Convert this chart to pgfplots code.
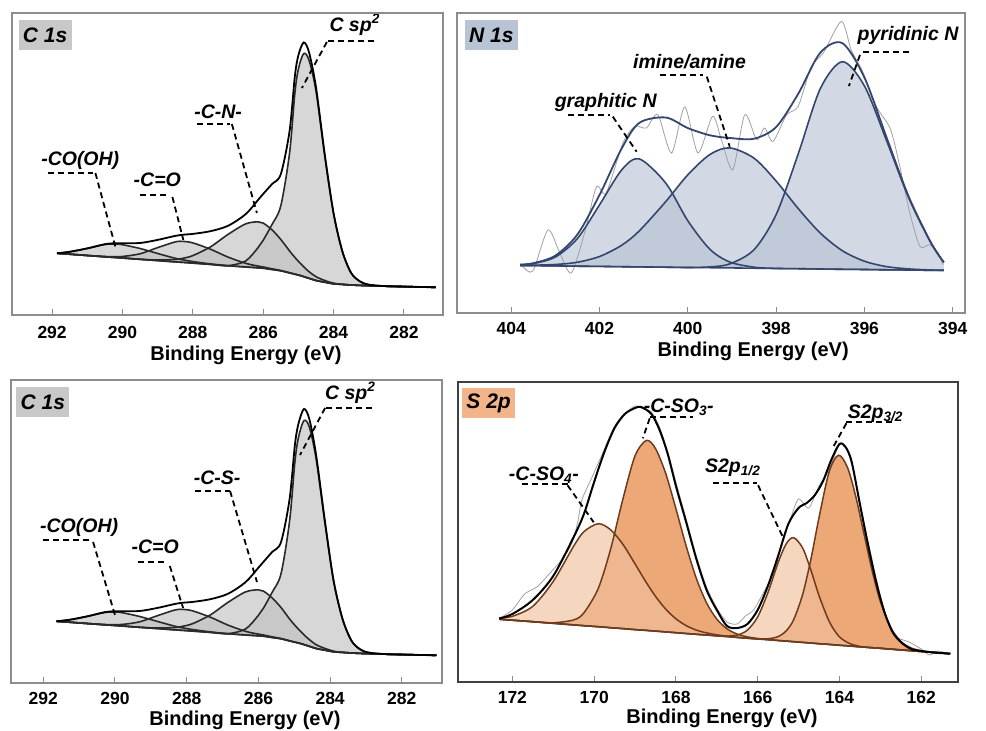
\documentclass[border=0pt]{standalone}
\usepackage{fontspec}
\setmainfont{Liberation Sans}
\usepackage{pgfplots}
\pgfplotsset{compat=1.18}
\usepackage{pgfplotstable}

\definecolor{fgray}{HTML}{8C8C8C}
\definecolor{dframe}{HTML}{404040}
\definecolor{cgray}{HTML}{BDBDBD}
\definecolor{cline}{HTML}{2A2A2A}
\definecolor{nfill}{HTML}{B4C0D2}
\definecolor{nline}{HTML}{34466E}
\definecolor{rawc}{HTML}{A0A0A0}
\definecolor{sline}{HTML}{6E3B1C}
\definecolor{so3}{HTML}{EDA878}
\definecolor{so4}{HTML}{F0C09C}
\definecolor{boxc}{HTML}{C8C8C8}
\definecolor{boxn}{HTML}{B8C3D3}
\definecolor{boxs}{HTML}{F2B48A}

% C 1s (top)
\pgfplotstableread{
E B sp2 CN CO COOH env
291.86 61.7 61.7 61.7 61.7 61.7 61.7
291.5 60.8 60.8 60.8 60.8 63.2 63.2
291.0 59.5 59.5 59.5 59.5 66.6 66.6
290.5 58.2 58.2 58.2 58.5 70.5 70.8
290.2 57.5 57.5 57.5 58.3 71.0 71.8
290.0 57.0 57.0 57.0 58.5 70.3 71.8
289.5 55.7 55.7 55.7 61.2 66.5 72.0
289.0 54.4 54.4 55.0 67.4 61.5 75.1
288.5 53.1 53.1 55.5 73.1 56.7 79.1
288.27 52.6 52.6 56.8 73.6 55.1 80.3
288.0 51.9 51.9 59.4 72.1 53.4 81.1
287.5 50.6 50.6 68.1 65.8 51.1 83.8
287.0 49.3 49.3 80.6 57.9 49.3 89.2
286.5 48.0 54.0 91.1 51.7 48.0 100.8
286.15 47.2 67.2 93.2 48.9 47.2 114.9
286.0 46.8 74.8 91.9 48.0 46.8 121.1
285.75 45.5 90.5 85.2 46.2 45.5 130.9
285.5 44.2 109.2 75.5 44.5 44.2 140.8
285.25 42.1 162.1 64.0 42.2 42.1 184.1
285.1 40.8 222.0 57.6 40.8 40.8 238.8
285.0 40.0 246.0 53.7 40.0 40.0 259.7
284.85 38.4 261.4 48.2 38.4 38.4 272.5
284.7 36.7 255.0 43.4 36.7 36.7 263.0
284.5 34.5 224.0 38.3 34.5 34.5 227.8
284.25 32.8 158.8 34.5 32.8 32.8 160.5
284.0 31.2 101.2 31.8 31.2 31.2 101.8
283.75 30.6 63.6 30.6 30.6 30.6 63.6
283.5 30.0 42.0 30.0 30.0 30.0 42.0
283.25 29.6 33.6 29.6 29.6 29.6 33.6
283.0 29.3 30.3 29.3 29.3 29.3 30.3
282.5 28.8 28.8 28.8 28.8 28.8 28.8
282.0 28.4 28.4 28.4 28.4 28.4 28.4
281.5 28.0 28.0 28.0 28.0 28.0 28.0
281.1 27.7 27.7 27.7 27.7 27.7 27.7
}\Pa

% C 1s (bottom)
\pgfplotstableread{
E B sp2 CS CO COOH env
291.63 61.7 61.7 61.7 61.7 61.7 61.7
291.27 60.8 60.8 60.8 60.8 63.2 63.2
290.78 59.5 59.5 59.5 59.5 66.6 66.6
290.29 58.2 58.2 58.2 58.5 70.5 70.8
289.99 57.5 57.5 57.5 58.3 71.0 71.8
289.80 57.0 57.0 57.0 58.5 70.3 71.8
289.31 55.7 55.7 55.7 61.2 66.5 72.0
288.81 54.4 54.4 55.0 67.4 61.5 75.1
288.32 53.1 53.1 55.5 73.1 56.7 79.1
288.10 52.6 52.6 56.8 73.6 55.1 80.3
287.83 51.9 51.9 59.4 72.1 53.4 81.1
287.34 50.6 50.6 68.1 65.8 51.1 83.8
286.85 49.3 49.3 80.6 57.9 49.3 89.2
286.36 48.0 54.0 91.1 51.7 48.0 100.8
286.01 47.2 67.2 93.2 48.9 47.2 114.9
285.86 46.8 74.8 91.9 48.0 46.8 121.1
285.62 45.5 90.5 85.2 46.2 45.5 130.9
285.37 44.2 109.2 75.5 44.5 44.2 140.8
285.13 42.1 162.1 64.0 42.2 42.1 184.1
284.98 40.8 222.0 57.6 40.8 40.8 238.8
284.88 40.0 246.0 53.7 40.0 40.0 259.7
284.73 38.4 262.4 48.2 38.4 38.4 274.0
284.58 36.7 256.0 43.4 36.7 36.7 264.0
284.39 34.5 224.0 38.3 34.5 34.5 227.8
284.14 32.8 158.8 34.5 32.8 32.8 160.5
283.90 31.2 101.2 31.8 31.2 31.2 101.8
283.65 30.6 63.6 30.6 30.6 30.6 63.6
283.40 30.0 42.0 30.0 30.0 30.0 42.0
283.16 29.6 33.6 29.6 29.6 29.6 33.6
282.91 29.3 30.3 29.3 29.3 29.3 30.3
282.42 28.8 28.8 28.8 28.8 28.8 28.8
281.93 28.4 28.4 28.4 28.4 28.4 28.4
281.44 28.0 28.0 28.0 28.0 28.0 28.0
281.04 27.7 27.7 27.7 27.7 27.7 27.7
}\Pc

% N 1s
\pgfplotstableread{
E B g i p env
403.8 47.5 48.2 47.7 47.5 48.4
403.5 47.4 49.4 47.8 47.4 49.8
403.0 47.1 56.0 48.5 47.1 57.4
402.5 46.8 74.6 50.8 46.8 78.6
402.0 46.6 108.2 56.5 46.6 118.1
401.5 46.3 143.0 67.7 46.3 164.4
401.1 46.1 154.1 82.1 46.1 190.1
400.5 45.8 129.9 111.4 45.8 195.5
400.0 45.5 92.2 138.2 45.5 184.9
399.5 45.3 63.7 158.5 46.1 177.7
399.05 45.1 51.0 165.1 49.1 175.0
398.5 44.8 45.8 154.8 63.3 174.3
398.0 44.5 44.6 132.0 98.3 185.9
397.5 44.3 44.3 104.5 158.9 219.1
397.0 44.0 44.0 80.0 224.2 260.2
396.5 43.7 43.7 62.3 251.3 269.9
396.0 43.5 43.5 51.8 227.2 235.5
395.5 43.2 43.2 46.4 172.7 175.9
395.0 43.0 43.0 44.1 115.7 116.8
394.5 42.7 42.7 43.0 70.7 71.0
394.2 42.6 42.6 42.7 50.6 50.7
}\Pb

\pgfplotstableread{
E h
403.74 46.6
403.51 42
403.17 83
402.90 60
402.64 40
402.34 80
402.07 126
401.85 120
401.47 170
401.20 186.6
400.94 185
400.68 198.3
400.37 160
400.07 206
399.77 160
399.44 196.6
399.24 173.3
398.98 143.3
398.71 198.3
398.44 173.3
398.26 185
398.07 171.6
397.76 198.3
397.50 206.6
397.20 246.6
396.93 260
396.52 291.6
396.30 263.3
396.04 241.6
395.73 206.6
395.42 185
395.23 153.3
394.97 100
394.74 66.6
394.52 68.3
394.33 60
394.22 48.3
}\Pbraw

% S 2p
\pgfplotstableread{
E B so4 so3 s12 s32
172.32 62.8 64.1 62.8 62.8 62.8
172.0 61.8 65.7 61.8 61.8 61.8
171.5 60.3 75.7 60.3 60.3 60.3
171.0 58.7 100.6 59.2 58.7 58.7
170.5 57.1 135.9 62.1 57.1 57.1
170.25 56.3 150.3 69.2 56.3 56.3
169.9 55.3 158.3 93.5 55.3 55.3
169.6 54.3 152.3 132.4 54.3 54.3
169.3 53.4 137.9 182.4 53.4 53.4
169.0 52.4 118.1 226.1 52.4 52.4
168.72 51.6 99.2 241.6 51.6 51.6
168.5 50.9 85.7 233.5 50.9 50.9
168.25 50.1 72.9 208.6 50.1 50.1
168.0 49.3 63.2 173.3 49.3 49.3
167.75 48.5 56.4 136.1 48.5 48.5
167.5 47.7 51.9 103.6 47.7 47.7
167.25 47.0 49.1 79.1 47.0 47.0
167.0 46.2 47.2 62.9 46.2 46.2
166.75 45.4 45.8 53.2 45.9 45.4
166.5 44.6 44.6 47.9 46.9 44.6
166.25 43.8 43.8 45.1 51.9 43.8
166.0 43.0 43.0 43.5 65.1 43.2
165.75 42.3 42.3 42.5 89.3 43.2
165.5 41.5 41.5 41.5 119.4 45.4
165.3 40.9 40.9 40.9 138.3 51.2
165.12 40.3 40.3 40.3 144.3 62.3
164.9 39.6 39.6 39.6 134.0 87.5
164.7 39.0 39.0 39.0 112.1 122.4
164.5 38.3 38.3 38.3 86.5 164.3
164.25 37.6 37.6 37.6 60.5 210.5
164.02 36.8 36.8 36.8 46.0 226.8
163.8 36.2 36.2 36.2 39.4 214.2
163.6 35.5 35.5 35.5 36.5 185.4
163.4 34.9 34.9 34.9 34.9 148.3
163.2 34.3 34.3 34.3 34.3 111.3
163.0 33.7 33.7 33.7 33.7 80.6
162.75 32.9 32.9 32.9 32.9 54.8
162.5 32.1 32.1 32.1 32.1 40.6
162.25 31.3 31.3 31.3 31.3 34.1
162.0 30.5 30.5 30.5 30.5 31.3
161.7 29.6 29.6 29.6 29.6 29.7
161.29 28.3 28.3 28.3 28.3 28.3
}\Pd

\pgfplotstableread{
E h
172.32 63.5
172.0 68
171.5 82
171.0 106
170.5 145
170.25 168
170.0 200
169.75 230
169.5 254
169.25 268
169.0 274
168.85 275
168.6 268
168.4 252
168.2 228
168.0 196
167.75 160
167.5 123
167.25 92
167.0 72
166.75 56
166.5 54
166.25 58
166.0 72
165.75 96
165.5 126
165.25 158
165.0 174
164.8 179
164.6 187
164.4 201
164.2 222
164.0 238
163.85 235
163.7 220
163.5 178
163.3 137
163.1 100
162.9 70
162.7 50
162.5 40
162.25 33
162.0 31
161.7 29.5
161.29 28.3
}\Pdenv

\pgfplotstableread{
E h
172.3 64
172.0 72
171.7 88
171.4 95
171.1 108
170.8 122
170.55 138
170.4 160
170.3 182
170.05 205
169.8 228
169.5 256
169.25 268
169.0 276
168.8 273
168.6 270
168.4 255
168.2 230
168.0 200
167.75 163
167.5 126
167.25 95
167.0 74
166.75 60
166.5 58
166.3 66
166.1 72
165.85 90
165.6 110
165.4 140
165.2 163
165.0 183
164.75 174
164.5 196
164.26 212
164.0 237
163.8 232
163.6 200
163.4 160
163.2 122
163.0 86
162.8 60
162.6 45
162.3 40
162.0 33
161.8 27
161.6 31
161.3 28
}\Pdraw

\pgfplotsset{
  xps/.style={
    scale only axis, clip=false, x dir=reverse, anchor=south west,
    axis on top,
    ymin=0, ytick=\empty, xtick pos=bottom, tick align=inside,
    major tick length=6pt,
    tick style={draw=fgray, line width=1pt},
    axis line style={draw=fgray, line width=1.3pt},
    /pgf/number format/assume math mode=true,
    xticklabel style={font=\fontsize{17.5}{17.5}\selectfont\bfseries, anchor=center, text=black},
    xlabel={Binding Energy (eV)},
    xlabel style={font=\fontsize{20}{20}\selectfont\bfseries, anchor=center},
  },
  cfill/.style={fill=cgray, fill opacity=0.6, draw=none, smooth},
  cl/.style={draw=cline, line width=1.6pt, smooth},
  nfillst/.style={fill=nfill, fill opacity=0.6, draw=none, smooth},
  nl/.style={draw=nline, line width=1.6pt, smooth},
  sl/.style={draw=sline, line width=1.5pt, smooth},
  wbase/.style={fill=white, draw=white, line width=1.5pt, smooth},
}

\begin{document}
\begin{tikzpicture}[
  annot/.style={font=\fontsize{19.5}{19.5}\selectfont\bfseries\itshape, inner sep=0pt},
  lead/.style={black, line width=1.8pt, dash pattern=on 6pt off 4pt},
  plab/.style={font=\fontsize{21}{21}\selectfont\bfseries\itshape, inner sep=0pt, minimum width=53pt, minimum height=30pt}]
\useasboundingbox (0,0) rectangle (986pt,731pt);

%================ Panel 1: C 1s (top) ================
\begin{axis}[xps, at={(12pt,416pt)}, width=431pt, height=302pt,
  xmin=280.89, xmax=293.14, ymax=302, xtick={282,284,...,292},
  xticklabel style={yshift=-17pt},
  xlabel style={at={(axis description cs:0.543,0)}, yshift=-40pt}]
\addplot[cfill] table[x=E,y=sp2]{\Pa} \closedcycle;
\addplot[cfill] table[x=E,y=CN]{\Pa} \closedcycle;
\addplot[cfill] table[x=E,y=CO]{\Pa} \closedcycle;
\addplot[cfill] table[x=E,y=COOH]{\Pa} \closedcycle;
\addplot[wbase] table[x=E,y=B]{\Pa} \closedcycle;
\addplot[cl] table[x=E,y=B]{\Pa};
\addplot[cl] table[x=E,y=sp2]{\Pa};
\addplot[cl] table[x=E,y=CN]{\Pa};
\addplot[cl] table[x=E,y=CO]{\Pa};
\addplot[cl] table[x=E,y=COOH]{\Pa};
\addplot[draw=black, line width=1.8pt, smooth] table[x=E,y=env]{\Pa};
\node[plab, fill=boxc] at (axis cs:292.2,280) {C 1s};
\node[annot] at (axis cs:283.40,290) {C sp\textsuperscript{2}};
\draw[lead] (axis cs:284.16,274.3) -- (axis cs:282.83,274.3);
\draw[lead] (axis cs:284.19,273) -- (axis cs:284.90,227);
\node[annot] at (axis cs:287.28,203) {-C-N-};
\draw[lead] (axis cs:287.88,191) -- (axis cs:286.94,191);
\draw[lead] (axis cs:286.89,191) -- (axis cs:286.18,102);
\node[annot] at (axis cs:291.20,155) {-CO(OH)};
\draw[lead] (axis cs:292.13,142) -- (axis cs:290.83,142);
\draw[lead] (axis cs:290.77,142) -- (axis cs:290.20,68);
\node[annot] at (axis cs:289.01,135) {-C=O};
\draw[lead] (axis cs:289.49,120) -- (axis cs:288.73,120);
\draw[lead] (axis cs:288.58,118) -- (axis cs:288.27,75);
\end{axis}

%================ Panel 2: N 1s ================
\begin{axis}[xps, at={(457pt,418pt)}, width=508pt, height=300pt,
  xmin=393.72, xmax=405.23, ymax=300, xtick={394,396,...,404},
  xticklabel style={yshift=-15pt},
  xlabel style={at={(axis description cs:0.583,0)}, yshift=-38pt}]
\addplot[nfillst] table[x=E,y=g]{\Pb} \closedcycle;
\addplot[nfillst] table[x=E,y=i]{\Pb} \closedcycle;
\addplot[nfillst] table[x=E,y=p]{\Pb} \closedcycle;
\addplot[wbase] table[x=E,y=B]{\Pb} \closedcycle;
\addplot[draw=rawc, line width=0.8pt, smooth, tension=0.45] table[x=E,y=h]{\Pbraw};
\addplot[nl] table[x=E,y=B]{\Pb};
\addplot[nl] table[x=E,y=g]{\Pb};
\addplot[nl] table[x=E,y=i]{\Pb};
\addplot[nl] table[x=E,y=p]{\Pb};
\addplot[draw=nline, line width=1.8pt, smooth] table[x=E,y=env]{\Pb};
\node[plab, fill=boxn] at (axis cs:404.45,277.8) {N 1s};
\node[annot] at (axis cs:401.86,210.3) {graphitic N};
\draw[lead] (axis cs:402.72,198.3) -- (axis cs:401.77,198.3);
\draw[lead] (axis cs:401.70,196.3) -- (axis cs:401.16,161.3);
\node[annot] at (axis cs:399.96,251.3) {imine/amine};
\draw[lead] (axis cs:400.64,238.3) -- (axis cs:399.66,238.3);
\draw[lead] (axis cs:399.57,236.3) -- (axis cs:399.05,166.3);
\node[annot] at (axis cs:395.01,277.3) {pyridinic N};
\draw[lead] (axis cs:396.03,261.3) -- (axis cs:394.99,261.3);
\draw[lead] (axis cs:396.10,258) -- (axis cs:396.35,227);
\end{axis}

%================ Panel 3: C 1s (bottom) ================
\begin{axis}[xps, at={(11pt,48pt)}, width=431pt, height=303pt,
  xmin=280.88, xmax=292.90, ymax=303, xtick={282,284,...,292},
  xticklabel style={yshift=-15pt},
  xlabel style={at={(axis description cs:0.543,0)}, yshift=-37pt}]
\addplot[cfill] table[x=E,y=sp2]{\Pc} \closedcycle;
\addplot[cfill] table[x=E,y=CS]{\Pc} \closedcycle;
\addplot[cfill] table[x=E,y=CO]{\Pc} \closedcycle;
\addplot[cfill] table[x=E,y=COOH]{\Pc} \closedcycle;
\addplot[wbase] table[x=E,y=B]{\Pc} \closedcycle;
\addplot[cl] table[x=E,y=B]{\Pc};
\addplot[cl] table[x=E,y=sp2]{\Pc};
\addplot[cl] table[x=E,y=CS]{\Pc};
\addplot[cl] table[x=E,y=CO]{\Pc};
\addplot[cl] table[x=E,y=COOH]{\Pc};
\addplot[draw=black, line width=1.8pt, smooth] table[x=E,y=env]{\Pc};
\node[plab, fill=boxc] at (axis cs:292.01,281) {C 1s};
\node[annot] at (axis cs:283.44,290) {C sp\textsuperscript{2}};
\draw[lead] (axis cs:284.11,275) -- (axis cs:282.80,275);
\draw[lead] (axis cs:284.14,275) -- (axis cs:284.84,228);
\node[annot] at (axis cs:287.15,205) {-C-S-};
\draw[lead] (axis cs:287.77,192) -- (axis cs:286.79,192);
\draw[lead] (axis cs:286.79,192) -- (axis cs:286.04,101);
\node[annot] at (axis cs:291.00,156) {-CO(OH)};
\draw[lead] (axis cs:292.01,143) -- (axis cs:290.70,143);
\draw[lead] (axis cs:290.61,141) -- (axis cs:290.0,68);
\node[annot] at (axis cs:288.88,136) {-C=O};
\draw[lead] (axis cs:289.36,121) -- (axis cs:288.55,121);
\draw[lead] (axis cs:288.47,117) -- (axis cs:288.10,75);
\end{axis}

%================ Panel 4: S 2p ================
\begin{axis}[xps, at={(458pt,49pt)}, width=500pt, height=300pt,
  xmin=161.1, xmax=173.33, ymax=300, xtick={162,164,...,172},
  axis line style={draw=dframe, line width=1.5pt},
  xticklabel style={yshift=-15pt},
  xlabel style={at={(axis description cs:0.528,0)}, yshift=-36pt}]
\addplot[fill=so3, draw=none, smooth] table[x=E,y=so3]{\Pd} \closedcycle;
\addplot[fill=so4, fill opacity=0.65, draw=none, smooth] table[x=E,y=so4]{\Pd} \closedcycle;
\addplot[fill=so3, draw=none, smooth] table[x=E,y=s32]{\Pd} \closedcycle;
\addplot[fill=so4, fill opacity=0.65, draw=none, smooth] table[x=E,y=s12]{\Pd} \closedcycle;
\addplot[wbase] table[x=E,y=B]{\Pd} \closedcycle;
\addplot[draw=rawc, line width=0.8pt, smooth, tension=0.45] table[x=E,y=h]{\Pdraw};
\addplot[sl] table[x=E,y=B]{\Pd};
\addplot[sl] table[x=E,y=so3]{\Pd};
\addplot[sl] table[x=E,y=so4]{\Pd};
\addplot[sl] table[x=E,y=s32]{\Pd};
\addplot[sl] table[x=E,y=s12]{\Pd};
\addplot[draw=black, line width=2pt, smooth] table[x=E,y=h]{\Pdenv};
\node[plab, fill=boxs] at (axis cs:172.58,278.7) {S 2p};
\node[annot] at (axis cs:171.23,206.7) {-C-SO\textsubscript{4}-};
\draw[lead] (axis cs:171.77,197.7) -- (axis cs:170.65,197.7);
\draw[lead] (axis cs:170.65,196.7) -- (axis cs:170.01,159.7);
\node[annot] at (axis cs:167.93,274.7) {-C-SO\textsubscript{3}-};
\draw[lead] (axis cs:168.64,264.7) -- (axis cs:167.59,264.7);
\draw[lead] (axis cs:168.64,263.7) -- (axis cs:168.81,243.7);
\node[annot] at (axis cs:166.61,214.7) {S2p\textsubscript{1/2}};
\draw[lead] (axis cs:167.10,198.7) -- (axis cs:166.02,198.7);
\draw[lead] (axis cs:165.99,196.7) -- (axis cs:165.38,144.7);
\node[annot] at (axis cs:163.12,268.7) {S2p\textsubscript{3/2}};
\draw[lead] (axis cs:163.83,259.7) -- (axis cs:162.70,259.7);
\draw[lead] (axis cs:163.83,258.7) -- (axis cs:164.17,233.7);
\end{axis}
\end{tikzpicture}
\end{document}
